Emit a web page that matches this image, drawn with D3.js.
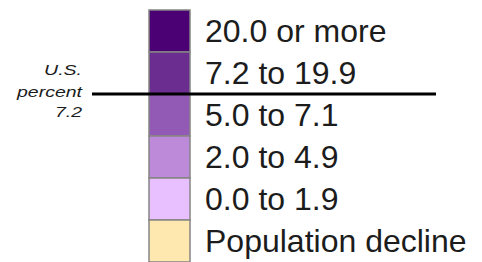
<!DOCTYPE html>
<html>
<head>
<meta charset="utf-8">
<script src="https://cdn.jsdelivr.net/npm/d3@7"></script>
<style>
  html, body { margin: 0; padding: 0; background: #fff; }
  svg { display: block; }
</style>
</head>
<body>
<svg id="legend" width="482" height="262"></svg>
<script>
// legend classes, top to bottom
var categories = ["20.0 or more", "7.2 to 19.9", "5.0 to 7.1", "2.0 to 4.9", "0.0 to 1.9", "Population decline"];
var colors = ["#4b0073", "#6b2d8f", "#9259b5", "#bd8ad9", "#e8bfff", "#ffe8b0"];
var usLabel = ["U.S.", "percent", "7.2"];
var usMarkerAfter = "7.2 to 19.9"; // national value sits on the lower edge of this class

var svg = d3.select("#legend");

var y = d3.scaleBand()
    .domain(categories)
    .range([10, 262])
    .paddingInner(0)
    .paddingOuter(0);

var boxX = 149, boxW = 41;

var rows = svg.selectAll(".row")
    .data(categories)
  .enter().append("g")
    .attr("class", "row");

rows.append("rect")
    .attr("x", boxX)
    .attr("y", function(d) { return y(d); })
    .attr("width", boxW)
    .attr("height", y.bandwidth())
    .attr("fill", function(d, i) { return colors[i]; })
    .attr("stroke", "#858585")
    .attr("stroke-width", 1.5);

rows.append("text")
    .attr("x", 205)
    .attr("y", function(d) { return y(d) + y.bandwidth() / 2 + 11; })
    .attr("font-family", "'Liberation Sans', Arial, sans-serif")
    .attr("font-size", 32)
    .attr("fill", "#1c1c1c")
    .text(function(d) { return d; });

// U.S. average marker line
var lineY = y(usMarkerAfter) + y.bandwidth();

svg.append("line")
    .attr("x1", 92)
    .attr("x2", 436)
    .attr("y1", lineY)
    .attr("y2", lineY)
    .attr("stroke", "#000")
    .attr("stroke-width", 3);

var offsets = [-19, 3, 23];
svg.selectAll(".us")
    .data(usLabel)
  .enter().append("text")
    .attr("class", "us")
    .attr("transform", function(d, i) { return "translate(82," + (lineY + offsets[i]) + ") scale(1.3,1)"; })
    .attr("text-anchor", "end")
    .attr("font-family", "'Liberation Sans', Arial, sans-serif")
    .attr("font-style", "italic")
    .attr("font-size", 15)
    .attr("fill", "#1c1c1c")
    .text(function(d) { return d; });
</script>
</body>
</html>
